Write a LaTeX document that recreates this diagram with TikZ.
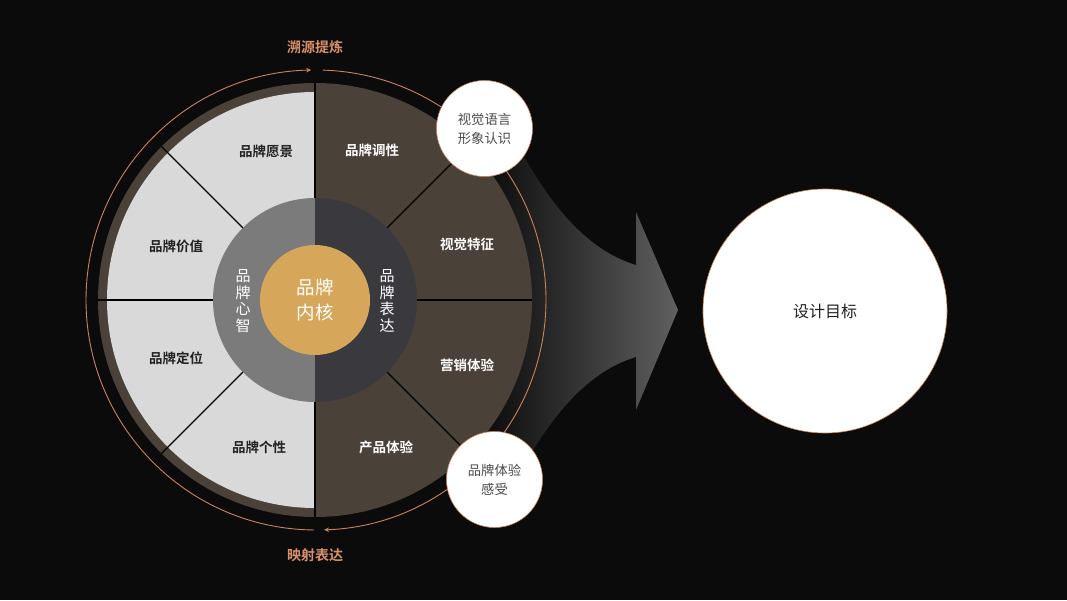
\documentclass[tikz,border=0pt]{standalone}
\usepackage{fontspec}
\setmainfont{Noto Sans CJK SC}[BoldFont={Noto Sans CJK SC Bold}]
\usetikzlibrary{arrows.meta}
\definecolor{bgc}{HTML}{0B0B0B}
\definecolor{brownc}{HTML}{4A4238}
\definecolor{lightg}{HTML}{D9D9D9}
\definecolor{ringL}{HTML}{7B7B7B}
\definecolor{ringR}{HTML}{3A393E}
\definecolor{goldc}{HTML}{D6A75A}
\definecolor{orangec}{HTML}{C9835D}
\definecolor{orangetxt}{HTML}{D8916B}
\definecolor{arrowgray}{HTML}{606060}
\definecolor{darktxt}{HTML}{222222}
\definecolor{circtxt}{HTML}{4A4A4A}
\tikzset{
  divider/.style={black, line width=1.4},
  seclabel/.style={font=\bfseries\fontsize{13.5}{16}\selectfont, inner sep=0},
  darklabel/.style={seclabel, text=darktxt},
  lightlabel/.style={seclabel, text=white},
  vertlabel/.style={font=\fontsize{15}{16.5}\selectfont, text=white, align=center, inner sep=0},
  smallc/.style={circle, fill=white, draw=orangec, line width=0.6, minimum size=96, inner sep=0, align=center, text=circtxt, font=\fontsize{13.3}{19}\selectfont},
  bigc/.style={circle, fill=white, draw=orangec, line width=0.6, minimum size=244, inner sep=0, text=darktxt, font=\fontsize{16}{20}\selectfont},
  orangelabel/.style={text=orangetxt, font=\bfseries\fontsize{14}{16}\selectfont, inner sep=0},
  cyclearc/.style={orangec, line width=0.9, -{Stealth[length=5,width=4.5]}}
}
\begin{document}
\begin{tikzpicture}[x=1pt,y=1pt]
\fill[bgc] (0,0) rectangle (1067,600);
\useasboundingbox (0,0) rectangle (1067,600);
\coordinate (C) at (315,300);
% big arrow
\shade[left color=black, right color=arrowgray]
  (460,470) -- (510,470) .. controls (545,400) and (585,350) .. (636,335)
  -- (636,388) -- (678,290) -- (636,190) -- (636,243)
  .. controls (585,228) and (545,178) .. (510,108) -- (460,108) -- cycle;
% wheel
\fill[brownc] (C) circle (217);
\fill[lightg] (315,508) arc (90:270:208) -- cycle;
\foreach \a in {0,45,...,315}
  \draw[divider, shift={(C)}] (\a:101) -- (\a:217);
\fill[ringL] (315,402) arc (90:270:102) -- cycle;
\fill[ringR] (315,198) arc (-90:90:102) -- cycle;
\node[circle, fill=goldc, minimum size=110, inner sep=0, align=center, text=white,
      font=\fontsize{18.5}{25}\selectfont] (core) at (C) {品牌\\内核};
\node[vertlabel] (mind) at (243,299) {品\\牌\\心\\智};
\node[vertlabel] (expr) at (387,299) {品\\牌\\表\\达};
% sector labels
\node[darklabel] (s1) at (266,449) {品牌愿景};
\node[darklabel] (s2) at (176,354) {品牌价值};
\node[darklabel] (s3) at (176,242) {品牌定位};
\node[darklabel] (s4) at (259,153) {品牌个性};
\node[lightlabel] (s5) at (372,450) {品牌调性};
\node[lightlabel] (s6) at (467,356) {视觉特征};
\node[lightlabel] (s7) at (467,235) {营销体验};
\node[lightlabel] (s8) at (386,153) {产品体验};
% cycle arcs
\draw[cyclearc, shift={(316,300)}] (269.5:230) arc (269.5:91.2:230);
\draw[cyclearc, shift={(316,300)}] (88.3:230) arc (88.3:-88:230);
\node[orangelabel] (top) at (315,553) {溯源提炼};
\node[orangelabel] (bot) at (315,45) {映射表达};
% small circles
\node[smallc] (vis) at (484.5,471.5) {视觉语言\\形象认识};
\node[smallc] (exp) at (494.5,120.5) {品牌体验\\感受};
% goal
\node[bigc] (goal) at (825,289) {设计目标};
\end{tikzpicture}
\end{document}
